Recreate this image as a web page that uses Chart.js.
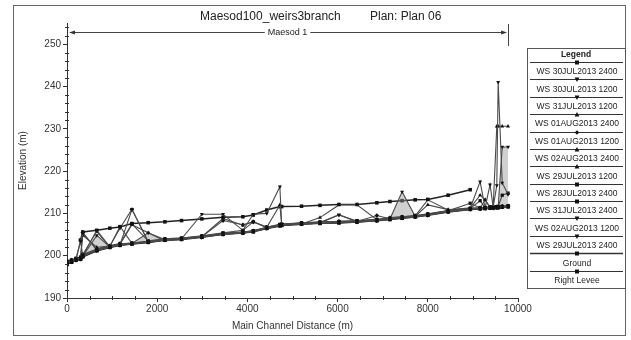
<!DOCTYPE html>
<html>
<head>
<meta charset="utf-8">
<title>Maesod100_weirs3branch</title>
<script src="https://cdn.jsdelivr.net/npm/chart.js@4.4.1/dist/chart.umd.min.js"></script>
<style>
    html, body { margin: 0; padding: 0; background: #fff; }
    #wrap { width: 631px; height: 340px; position: relative; }
</style>
</head>
<body>
<div id="wrap"><canvas id="profileChart"></canvas></div>
<script>
// main channel stations (m)
const stations = [0, 100, 200, 300, 350, 660, 950, 1175, 1440, 1800, 2170, 2540, 2990, 3460, 3900, 4130, 4430, 4720, 4760, 5200,
    5610, 6030, 6430, 6870, 7160, 7430, 7720, 8000, 8450, 8940, 9160, 9270, 9380, 9450, 9530, 9560, 9650, 9780];

// elevations (m)
const ground = [198.0, 198.5, 199.0, 199.2, 199.8, 201.2, 202.0, 202.5, 202.8, 203.2, 203.7, 203.9, 204.4, 205.1, 205.4, 205.7, 206.5, 207.1, 207.2, 207.5,
    207.7, 207.8, 208.0, 208.3, 208.6, 208.9, 209.2, 209.6, 210.4, 211.0, 211.1, 211.2, 211.3, 211.3, 211.4, 211.4, 211.5, 211.6];
const rightLevee = [null, null, null, 203.7, 205.6, 206.0, 206.5, 206.8, 207.6, 207.8, 208.0, 208.3, 208.7, 209.1, 209.2, 209.6, 210.8, 211.6, 211.6, 211.7,
    211.9, 212.1, 212.1, 212.5, 212.8, 213.0, 213.2, 213.3, 214.3, 215.6, null, null, null, null, null, null, null, null];

const ws30Jul2400 = [198.4, 198.8, 199.2, 199.4, 200.2, 201.4, 202.2, 206.9, 202.9, 203.3, 203.8, 204.0, 204.5, 205.2, 205.5, 205.8, 206.6, 207.3, 207.3, 207.6,
    207.8, 207.9, 208.1, 208.4, 208.7, 209.0, 209.3, 209.7, 210.5, 211.1, 213.0, 211.3, 211.4, 211.4, 211.5, 211.5, 211.6, 211.7];
const ws30Jul1200 = [198.3, 198.7, 199.1, 203.4, 200.0, 206.0, 202.1, 202.6, 202.9, 203.3, 203.7, 203.9, 204.4, 205.1, 205.4, 205.7, 206.5, 207.2, 207.2, 207.5,
    207.7, 209.7, 208.0, 208.3, 208.6, 208.9, 209.2, 209.6, 210.4, 211.0, 211.1, 211.2, 211.3, 211.3, 211.4, 211.4, 211.5, 211.6];
const ws31Jul1200 = [198.6, 198.9, 199.3, 203.5, 205.3, 201.5, 202.3, 206.5, 211.0, 203.3, 203.8, 204.0, 209.8, 209.8, 206.0, 209.8, 210.0, 216.3, 207.4, 207.6,
    207.9, 209.6, 208.2, 208.5, 208.8, 209.0, 209.4, 209.8, 210.6, 211.2, 217.5, 211.3, 216.8, 211.5, 216.6, 241.0, 217.2, 214.5];
const ws01Aug2400 = [198.3, 198.7, 199.1, 199.5, 200.3, 205.7, 202.1, 202.7, 207.3, 205.4, 203.5, 203.9, 204.5, 208.8, 207.2, 208.0, 206.7, 212.0, 207.3, 207.5,
    209.0, 212.0, 212.0, 208.5, 209.0, 209.2, 209.4, 213.2, 210.8, 211.3, 214.3, 213.2, 211.5, 211.6, 230.6, 230.6, 230.6, 230.6];
const ws01Aug1200 = [198.5, 198.8, 199.2, 199.5, 205.5, 201.3, 202.1, 202.6, 210.9, 203.3, 203.8, 204.0, 204.5, 208.3, 207.3, 208.0, 206.6, 207.2, 207.3, 207.6,
    207.8, 208.0, 208.1, 209.5, 208.7, 209.0, 209.3, 209.7, 210.5, 211.1, 211.2, 211.3, 211.4, 211.4, 211.5, 211.5, 211.6, 211.7];
const ws02Aug2400 = [198.2, 198.6, 199.0, 199.3, 199.9, 201.3, 202.1, 202.6, 202.9, 203.3, 203.8, 204.0, 204.5, 205.2, 205.5, 205.8, 206.6, 207.2, 207.3, 207.6,
    207.8, 208.0, 208.1, 208.4, 208.7, 209.0, 209.3, 212.0, 210.9, 211.1, 211.2, 213.2, 211.4, 211.4, 211.5, 211.5, 211.6, 211.7];
const ws29Jul1200 = [198.6, 199.0, 199.3, 199.6, 204.8, 202.0, 202.3, 202.8, 203.0, 203.4, 203.9, 204.1, 204.6, 205.3, 205.6, 205.9, 206.7, 207.3, 207.4, 207.7,
    207.9, 208.1, 208.2, 208.5, 208.8, 209.1, 209.4, 209.8, 210.6, 211.2, 211.3, 211.4, 211.5, 211.5, 211.6, 211.6, 211.7, 211.8];
const ws28Jul2400 = [198.5, 198.9, 199.2, 199.5, 200.1, 201.4, 202.2, 202.7, 203.0, 203.4, 203.9, 204.1, 204.6, 205.3, 205.6, 205.9, 206.7, 207.3, 207.4, 207.7,
    207.9, 208.0, 208.2, 208.5, 208.8, 209.1, 209.4, 209.8, 210.6, 212.4, 211.3, 211.4, 211.5, 211.5, 211.6, 211.6, 211.7, 211.8];
const ws31Jul2400 = [198.7, 199.0, 199.4, 199.7, 200.3, 201.6, 202.4, 202.9, 207.5, 203.5, 204.0, 204.2, 204.7, 205.4, 206.0, 208.0, 206.8, 207.4, 207.5, 207.8,
    208.0, 208.1, 208.3, 208.6, 208.9, 209.2, 209.5, 209.9, 210.7, 211.2, 211.3, 211.4, 211.5, 211.5, 211.6, 211.6, 214.3, 214.8];
const ws02Aug1200 = [198.1, 198.5, 199.0, 199.2, 199.9, 204.8, 202.1, 202.5, 202.9, 205.4, 203.8, 203.9, 204.4, 205.1, 205.4, 205.7, 206.5, 207.1, 207.2, 207.5,
    207.7, 207.8, 208.0, 208.3, 208.7, 215.1, 209.3, 209.6, 210.4, 211.0, 211.1, 211.2, 211.3, 211.3, 211.4, 211.5, 225.7, 225.7];
const ws29Jul2400 = [198.1, 198.5, 198.9, 199.2, 199.8, 201.2, 202.0, 202.5, 202.8, 203.2, 203.7, 203.9, 204.4, 205.1, 205.4, 205.7, 206.5, 207.1, 207.2, 207.5,
    207.7, 207.8, 208.0, 208.3, 208.6, 208.9, 209.2, 209.6, 210.4, 211.0, 211.1, 211.2, 211.3, 211.3, 211.4, 211.4, 211.5, 211.6];

const reachName = 'Maesod 1';
const FONT = '"Liberation Sans", Arial, sans-serif';

function toPoints(values) {
    return stations.map((s, i) => ({ x: s, y: values[i] }));
}

function wsLine(label, values, marker, rotation) {
    return {
        label: label,
        data: toPoints(values),
        borderColor: '#4a4a4a',
        borderWidth: 1.1,
        pointStyle: marker,
        pointRotation: rotation || 0,
        pointRadius: 2.3,
        pointBackgroundColor: '#111',
        pointBorderColor: '#111',
        pointBorderWidth: 0,
        fill: false,
        tension: 0
    };
}

// little marker drawer for the boxed legend
function drawMarker(ctx, style, rotation, x, y, r) {
    ctx.save();
    ctx.translate(x, y);
    ctx.rotate((rotation || 0) * Math.PI / 180);
    ctx.beginPath();
    if (style === 'triangle') {
        ctx.moveTo(0, -r * 1.3);
        ctx.lineTo(r * 1.2, r);
        ctx.lineTo(-r * 1.2, r);
        ctx.closePath();
    } else if (style === 'circle') {
        ctx.arc(0, 0, r, 0, Math.PI * 2);
    } else if (style === 'rectRot') {
        ctx.rotate(Math.PI / 4);
        ctx.rect(-r * 0.8, -r * 0.8, r * 1.6, r * 1.6);
    } else {
        ctx.rect(-r, -r, r * 2, r * 2);
    }
    ctx.fill();
    ctx.restore();
}

const decorPlugin = {
    id: 'decor',
    beforeDraw(chart) {
        const ctx = chart.ctx;
        ctx.save();
        ctx.fillStyle = '#fff';
        ctx.fillRect(0, 0, chart.width, chart.height);
        ctx.strokeStyle = '#666';
        ctx.lineWidth = 1;
        ctx.strokeRect(13.5, 5.5, 612, 330);
        ctx.restore();
    },
    afterDraw(chart) {
        const ctx = chart.ctx;
        const xs = chart.scales.x;
        const ys = chart.scales.y;
        ctx.save();

        // title
        ctx.fillStyle = '#222';
        ctx.font = '12px ' + FONT;
        ctx.textBaseline = 'middle';
        ctx.textAlign = 'left';
        ctx.fillText('Maesod100_weirs3branch', 200, 17);
        ctx.fillText('Plan: Plan 06', 370, 17);

        // minor ticks
        ctx.strokeStyle = '#333';
        ctx.lineWidth = 1;
        for (let v = 192; v < 255; v += 2) {
            if (v % 10 === 0) continue;
            const py = Math.round(ys.getPixelForValue(v)) + 0.5;
            ctx.beginPath();
            ctx.moveTo(xs.left - 2, py);
            ctx.lineTo(xs.left + 2, py);
            ctx.stroke();
        }
        for (let v = 500; v < 10000; v += 500) {
            if (v % 2000 === 0) continue;
            const px = Math.round(xs.getPixelForValue(v)) + 0.5;
            ctx.beginPath();
            ctx.moveTo(px, ys.bottom - 2);
            ctx.lineTo(px, ys.bottom + 2);
            ctx.stroke();
        }

        // reach arrow across the top
        const xa = xs.getPixelForValue(stations[0]);
        const xb = xs.getPixelForValue(stations[stations.length - 1]);
        const ya = 32.5;
        ctx.font = '9px ' + FONT;
        ctx.textAlign = 'center';
        const mid = (xa + xb) / 2;
        const half = ctx.measureText(reachName).width / 2;
        ctx.fillText(reachName, mid, ya);
        ctx.strokeStyle = '#444';
        ctx.beginPath();
        ctx.moveTo(xa + 4, ya);
        ctx.lineTo(mid - half - 3, ya);
        ctx.moveTo(mid + half + 3, ya);
        ctx.lineTo(xb - 4, ya);
        ctx.moveTo(Math.round(xb) + 0.5, 24);
        ctx.lineTo(Math.round(xb) + 0.5, 46);
        ctx.stroke();
        ctx.fillStyle = '#333';
        ctx.beginPath();
        ctx.moveTo(xa + 2, ya);
        ctx.lineTo(xa + 8, ya - 2);
        ctx.lineTo(xa + 8, ya + 2);
        ctx.closePath();
        ctx.moveTo(xb - 1, ya);
        ctx.lineTo(xb - 7, ya - 2);
        ctx.lineTo(xb - 7, ya + 2);
        ctx.closePath();
        ctx.fill();

        // boxed legend
        const left = 527, top = 48, w = 98, h = 240;
        ctx.strokeStyle = '#555';
        ctx.strokeRect(left + 0.5, top + 0.5, w, h);
        ctx.fillStyle = '#222';
        ctx.font = 'bold 8.5px ' + FONT;
        ctx.fillText('Legend', left + w / 2, top + 7);
        const sets = chart.data.datasets;
        const rowH = (h - 14) / sets.length;
        ctx.font = '8.5px ' + FONT;
        sets.forEach((ds, i) => {
            const y0 = top + 14 + i * rowH;
            const ly = Math.round(y0) + 0.5;
            ctx.strokeStyle = '#333';
            ctx.lineWidth = ds.label === 'Ground' ? 1.5 : 1;
            ctx.beginPath();
            ctx.moveTo(left + 3, ly);
            ctx.lineTo(left + w - 2, ly);
            ctx.stroke();
            ctx.fillStyle = '#111';
            drawMarker(ctx, ds.pointStyle, ds.pointRotation, left + w / 2 + 1, ly, 2);
            ctx.fillStyle = '#222';
            ctx.fillText(ds.label, left + w / 2 + 1, y0 + 10);
        });

        ctx.restore();
    }
};

document.addEventListener('DOMContentLoaded', () => {
    const ctx = document.getElementById('profileChart').getContext('2d');

    const datasets = [
        wsLine('WS 30JUL2013 2400', ws30Jul2400, 'rect'),
        wsLine('WS 30JUL2013 1200', ws30Jul1200, 'triangle', 180),
        wsLine('WS 31JUL2013 1200', ws31Jul1200, 'triangle', 180),
        wsLine('WS 01AUG2013 2400', ws01Aug2400, 'triangle'),
        wsLine('WS 01AUG2013 1200', ws01Aug1200, 'rectRot'),
        wsLine('WS 02AUG2013 2400', ws02Aug2400, 'triangle'),
        wsLine('WS 29JUL2013 1200', ws29Jul1200, 'triangle'),
        wsLine('WS 28JUL2013 2400', ws28Jul2400, 'rect'),
        wsLine('WS 31JUL2013 2400', ws31Jul2400, 'rect'),
        wsLine('WS 02AUG2013 1200', ws02Aug1200, 'triangle', 180),
        wsLine('WS 29JUL2013 2400', ws29Jul2400, 'triangle', 180),
        {
            label: 'Ground',
            data: toPoints(ground),
            borderColor: '#111',
            borderWidth: 2,
            pointStyle: 'rect',
            pointRadius: 2.8,
            pointBackgroundColor: '#111',
            pointBorderWidth: 0,
            fill: false
        },
        {
            label: 'Right Levee',
            data: toPoints(rightLevee),
            borderColor: '#222',
            borderWidth: 1.5,
            pointStyle: 'rect',
            pointRadius: 2.5,
            pointBackgroundColor: '#111',
            pointBorderWidth: 0,
            fill: false
        }
    ];

    // shaded wetted area between the 02AUG 1200 profile and the ground
    datasets[9].fill = 11;
    datasets[9].backgroundColor = 'rgba(150,150,150,0.45)';

    new Chart(ctx, {
        type: 'line',
        data: { datasets: datasets },
        options: {
            responsive: true,
            maintainAspectRatio: false,
            animation: false,
            layout: { padding: { left: 13, top: 23, right: 113, bottom: 5 } },
            plugins: {
                legend: { display: false },
                title: { display: false },
                tooltip: { enabled: false }
            },
            scales: {
                x: {
                    type: 'linear',
                    min: 0,
                    max: 10000,
                    afterFit: s => { s.height = 37; },
                    border: { display: true, color: '#333', width: 1 },
                    grid: { drawOnChartArea: false, drawTicks: true, tickLength: 4, color: '#333' },
                    ticks: {
                        stepSize: 2000,
                        autoSkip: false,
                        maxRotation: 0,
                        padding: 1,
                        color: '#333',
                        font: { family: FONT, size: 10 },
                        callback: v => String(v)
                    },
                    title: {
                        display: true,
                        text: 'Main Channel Distance (m)',
                        color: '#333',
                        font: { family: FONT, size: 10 },
                        padding: { top: 0, bottom: 3 }
                    }
                },
                y: {
                    type: 'linear',
                    min: 190,
                    max: 255,
                    afterFit: s => { s.width = 54; },
                    border: { display: true, color: '#333', width: 1 },
                    grid: { drawOnChartArea: false, drawTicks: true, tickLength: 4, color: '#333' },
                    ticks: {
                        stepSize: 10,
                        includeBounds: false,
                        padding: 2,
                        color: '#333',
                        font: { family: FONT, size: 10 },
                        callback: v => String(v)
                    },
                    title: {
                        display: true,
                        text: 'Elevation (m)',
                        color: '#333',
                        font: { family: FONT, size: 10 },
                        padding: { top: 4, bottom: 4 }
                    }
                }
            }
        },
        plugins: [decorPlugin]
    });
});
</script>
</body>
</html>
